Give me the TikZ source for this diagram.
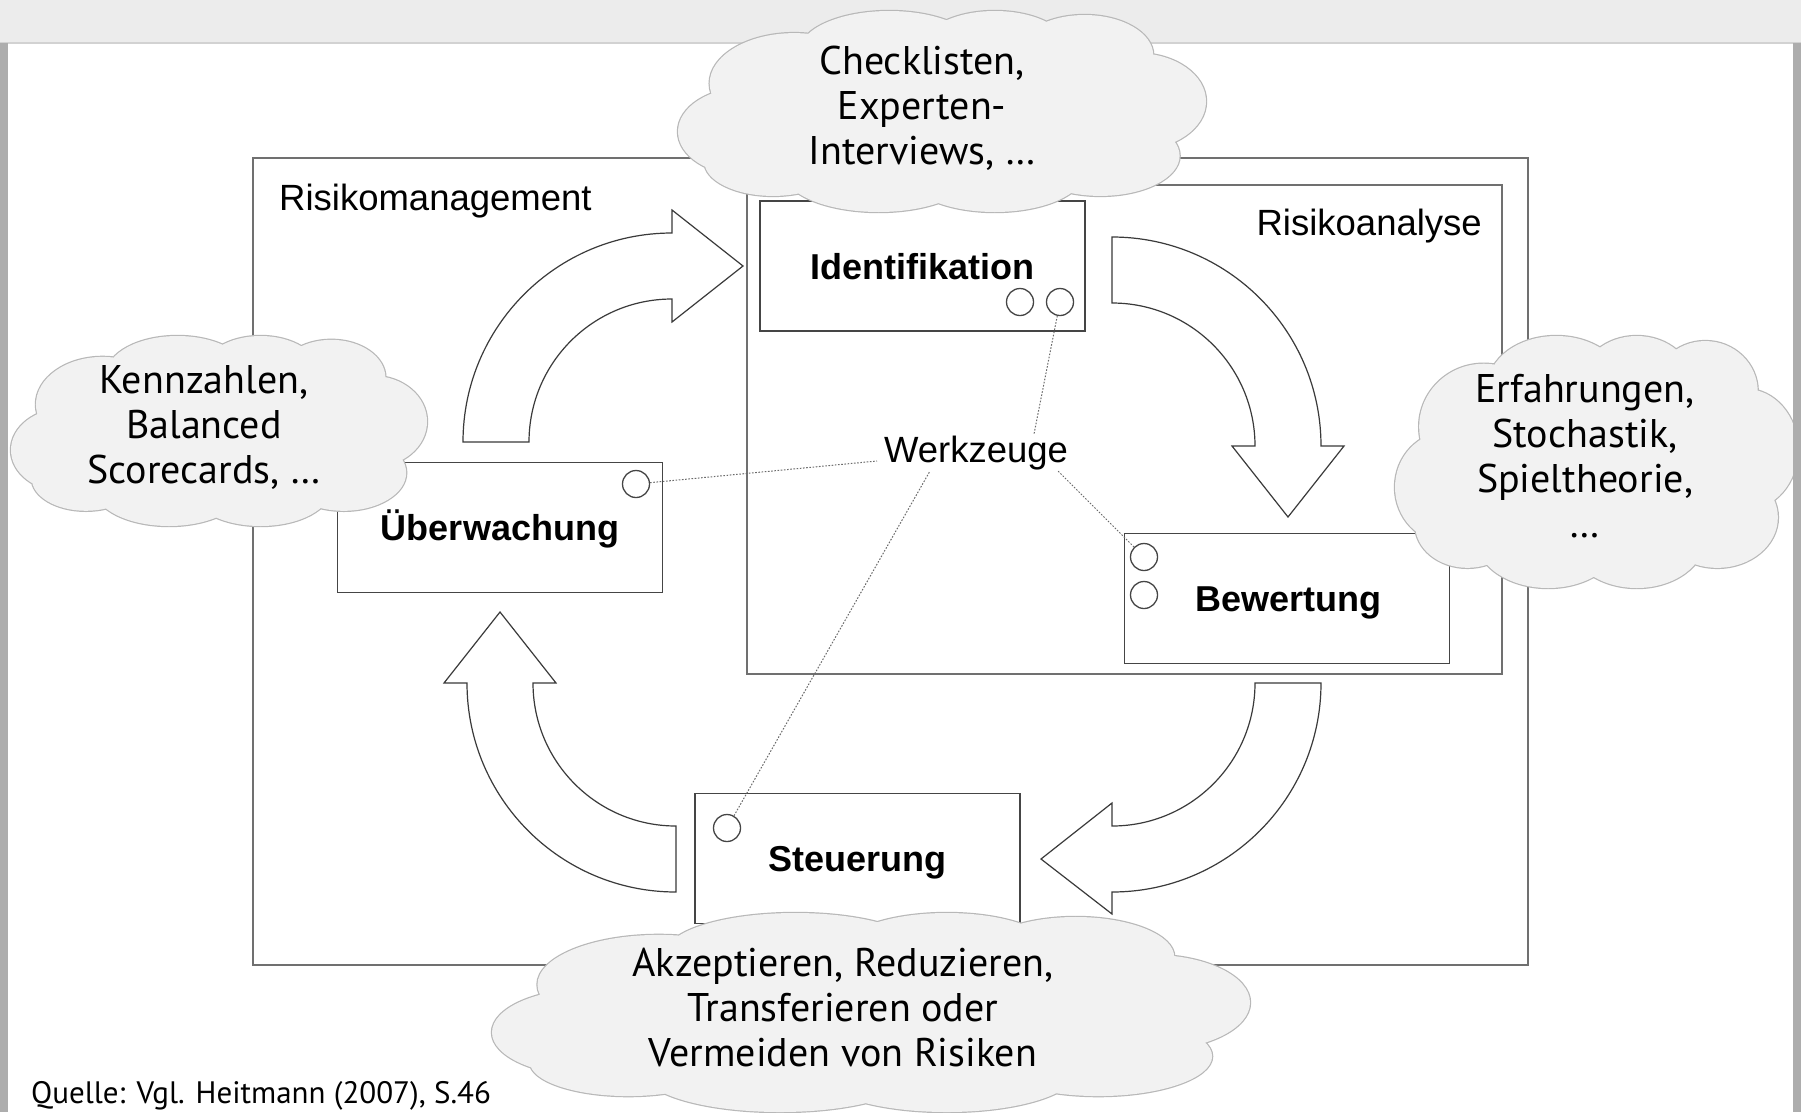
\documentclass[tikz,border=0pt]{standalone}
\usepackage{fontspec}
\setmainfont{Liberation Sans}
\newfontfamily\cloudfont{PT Sans}
\definecolor{band}{HTML}{ECECEC}
\definecolor{bandline}{HTML}{D2D2D2}
\definecolor{sidebar}{HTML}{ADADAD}
\definecolor{frameline}{HTML}{707070}
\definecolor{boxline}{HTML}{454545}
\definecolor{arrline}{HTML}{3A3A3A}
\definecolor{cloudfill}{HTML}{F2F2F2}
\definecolor{cloudline}{HTML}{B8B8B8}
\definecolor{dotline}{HTML}{6A6A6A}
\newcommand\myCloudPath{%
  (0.13,0.60) ellipse (0.13 and 0.22)
  (0.22,0.36) ellipse (0.16 and 0.25)
  (0.40,0.20) ellipse (0.17 and 0.20)
  (0.60,0.19) ellipse (0.14 and 0.19)
  (0.77,0.22) ellipse (0.13 and 0.20)
  (0.87,0.45) ellipse (0.13 and 0.24)
  (0.80,0.72) ellipse (0.15 and 0.20)
  (0.60,0.80) ellipse (0.17 and 0.20)
  (0.38,0.80) ellipse (0.18 and 0.20)
  (0.18,0.75) ellipse (0.13 and 0.17)
  (0.50,0.50) ellipse (0.38 and 0.33)}
\newcommand\myCloud[4]{%
  \begin{scope}[shift={(#1,#2)},xscale=#3,yscale=#4]
    \draw[cloudline,line width=2.4pt] \myCloudPath;
    \fill[cloudfill] \myCloudPath;
  \end{scope}}
\begin{document}
\begin{tikzpicture}[x=1pt,y=-1pt,
  framebox/.style={draw=frameline,line width=1.5pt},
  procbox/.style={draw=boxline,line width=1.5pt,fill=white,minimum width=325pt,minimum height=130pt,
    font=\fontsize{36}{40}\selectfont\bfseries,text height=26pt,text depth=0pt,inner sep=0pt},
  port/.style={circle,draw=boxline,line width=1.3pt,minimum size=27pt,inner sep=0pt},
  bigarrow/.style={draw=arrline,line width=1.2pt,fill=white,line join=miter},
  tooldot/.style={draw=dotline,line width=1pt,dash pattern=on 1.6pt off 1.6pt},
  lbl/.style={font=\fontsize{36.5}{40}\selectfont,inner sep=0pt},
  cloudtext/.style={font=\cloudfont\fontsize{40}{45}\selectfont,align=center,inner sep=0pt}]
\useasboundingbox (0,0) rectangle (1801,1112);
% window frame
\fill[white] (0,0) rectangle (1801,1112);
\fill[band] (0,0) rectangle (1801,43);
\draw[bandline,line width=1.5pt] (0,43) -- (1801,43);
% frames
\node[framebox,minimum width=1275pt,minimum height=807pt,inner sep=0pt] (mgmt) at (890.5,561.5) {};
\node[framebox,minimum width=755pt,minimum height=489pt,inner sep=0pt] (anal) at (1124.5,429.5) {};
\node[lbl,anchor=base west] (tmgmt) at (279,210) {Risikomanagement};
\node[lbl,anchor=base east] (tanal) at (1482,235) {Risikoanalyse};
% big curved arrows
\draw[bigarrow] (463,442) arc (180:270:209) -- (672,210) -- (743,266) -- (672,322) -- (672,299)
  arc (270:180:143) -- cycle;
\draw[bigarrow] (1112,237) arc (270:360:209) -- (1344,446) -- (1288,517) -- (1232,446) -- (1255,446)
  arc (360:270:143) -- cycle;
\draw[bigarrow] (1321,683) arc (0:90:209) -- (1112,914) -- (1041,859) -- (1112,803) -- (1112,826)
  arc (90:0:143) -- cycle;
\draw[bigarrow] (676,892) arc (90:180:209) -- (444,683) -- (500,612) -- (556,683) -- (533,683)
  arc (180:90:143) -- cycle;
% process boxes
\node[procbox] (ident) at (922.5,266) {Identifikation};
\node[procbox] (ueber) at (500,527.5) {Überwachung};
\node[procbox] (bew) at (1287,598.5) {\hspace*{2pt}Bewertung};
\node[procbox] (steu) at (857.5,858.5) {Steuerung};
% ports
\node[port] (pi1) at (1020,302) {};
\node[port] (pi2) at (1060,302) {};
\node[port] (pu) at (636,484) {};
\node[port] (pb1) at (1144,557) {};
\node[port] (pb2) at (1144,595) {};
\node[port] (ps) at (727,828) {};
% tools
\node[lbl,anchor=base] (wz) at (976,462) {Werkzeuge};
\coordinate (w1) at (1034,434);
\coordinate (w2) at (877,461);
\coordinate (w3) at (930,471);
\coordinate (w4) at (1058,471);
\draw[tooldot] (pi2) -- (w1);
\draw[tooldot] (pu) -- (w2);
\draw[tooldot] (ps) -- (w3);
\draw[tooldot] (pb1) -- (w4);
% clouds
\myCloud{678}{11}{528}{201}
\node[cloudtext] (ttop) at (922,108) {Checklisten,\\Experten-\\Interviews, …};
\myCloud{11}{336}{416}{190}
\node[cloudtext] (tleft) at (204,427) {Kennzahlen,\\Balanced\\Scorecards, …};
\myCloud{1395}{336}{403}{252}
\node[cloudtext] (tright) at (1585,456) {Erfahrungen,\\Stochastik,\\Spieltheorie,\\…};
\myCloud{492}{913}{758}{199}
\node[cloudtext] (tbot) at (843,1008) {Akzeptieren, Reduzieren,\\Transferieren oder\\Vermeiden von Risiken};
% side bars
\fill[sidebar] (0,43) rectangle (8,1112);
\fill[sidebar] (1793,43) rectangle (1801,1112);
% source
\node[anchor=base west,inner sep=0pt,font=\cloudfont\fontsize{31}{34}\selectfont] (src) at (31,1103) {Quelle: Vgl. Heitmann (2007), S.46};
\end{tikzpicture}
\end{document}
